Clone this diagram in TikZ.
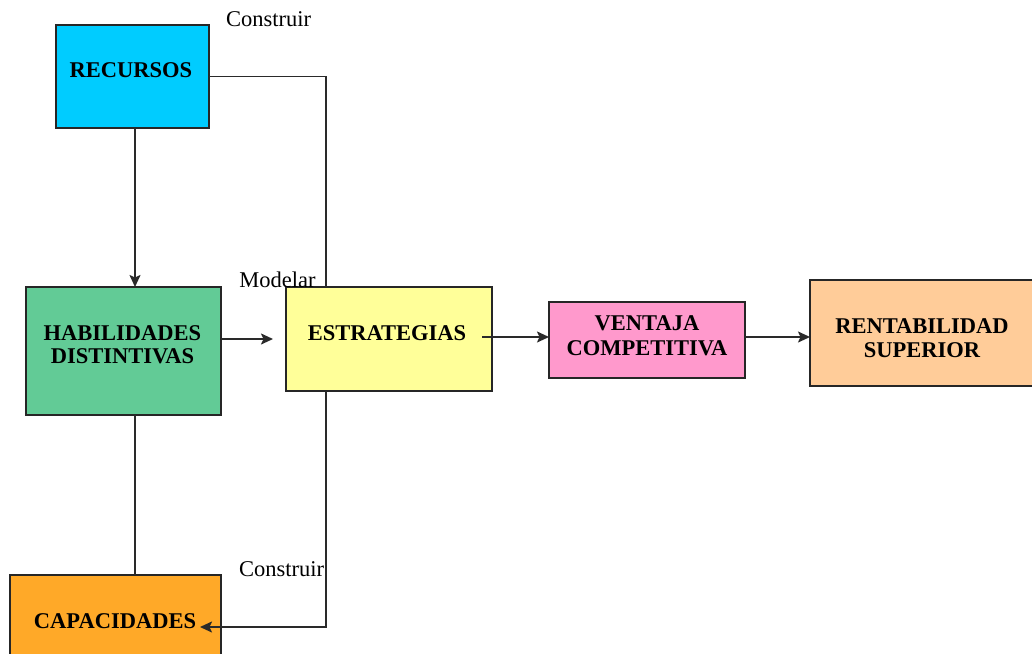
\documentclass[tikz,border=0pt]{standalone}
\usepackage{fontspec}
\setmainfont{Liberation Serif}
\usetikzlibrary{arrows.meta,calc}

\definecolor{recfill}{HTML}{00CCFF}
\definecolor{habfill}{HTML}{62CB96}
\definecolor{estfill}{HTML}{FFFF99}
\definecolor{venfill}{HTML}{FF99CC}
\definecolor{renfill}{HTML}{FFCC99}
\definecolor{capfill}{HTML}{FFA928}
\definecolor{edge}{HTML}{2A2A2A}

\begin{document}
\begin{tikzpicture}[x=1pt,y=-1pt,
  box/.style={draw=black!85, line width=1.5pt, inner sep=0pt, outer sep=0pt},
  lbl/.style={font=\fontsize{22.5}{24}\selectfont\bfseries, anchor=base, inner sep=0pt},
  note/.style={font=\fontsize{22.5}{24}\selectfont, anchor=base, inner sep=0pt},
  link/.style={draw=edge, line width=1.8pt},
  arr/.style={link, -{Stealth[length=12pt,width=11pt,inset=2.5pt]}}]

\useasboundingbox (0,0) rectangle (1032,653);

% boxes
\node[box, fill=recfill, minimum width=153pt, minimum height=103pt] (rec) at (132.5,76.5) {};
\node[box, fill=habfill, minimum width=195pt, minimum height=128pt] (hab) at (123.5,351) {};
\node[box, fill=estfill, minimum width=206pt, minimum height=104pt] (est) at (389,339) {};
\node[box, fill=venfill, minimum width=196pt, minimum height=76pt] (ven) at (647,340) {};
\node[box, fill=renfill, minimum width=226pt, minimum height=106pt] (ren) at (923,333) {};
\node[box, fill=capfill, minimum width=211pt, minimum height=85pt] (cap) at (115.5,617.5) {};

% box texts
\node[lbl] (trec) at (131,77) {RECURSOS};
\node[lbl] (thab1) at (122.5,340) {HABILIDADES};
\node[lbl] (thab2) at (122.5,363) {DISTINTIVAS};
\node[lbl] (test) at (387,340) {ESTRATEGIAS};
\node[lbl] (tven1) at (647,330) {VENTAJA};
\node[lbl] (tven2) at (647,355) {COMPETITIVA};
\node[lbl] (tren1) at (922,333) {RENTABILIDAD};
\node[lbl] (tren2) at (922,357) {SUPERIOR};
\node[lbl] (tcap) at (115,628) {CAPACIDADES};

% connector labels
\node[note] (n1) at (268.5,27) {Construir};
\node[note] (n2) at (277.5,287) {Modelar};
\node[note] (n3) at (281.5,576) {Construir};

% connectors
\draw[arr] ($(rec.south)+(2.5,0)$) -- ($(hab.north)+(11.5,0)$);
\draw[link] (rec.east) -| ($(est.north west)+(40,0)$);
\draw[arr] ($(est.south west)+(40,0)$) |- ($(cap.east)+(-21,9.5)$);
\draw[arr] ($(hab.east)+(0,-12)$) -- ($(est.west)+(-13,0)$);
\draw[arr] ($(est.east)+(-10,-2)$) -- ($(ven.west)+(0,-3)$);
\draw[arr] ($(ven.east)+(0,-3)$) -- ($(ren.west)+(0,4)$);
\draw[link] ($(hab.south)+(11.5,0)$) -- ($(cap.north)+(19.5,0)$);
\end{tikzpicture}
\end{document}
